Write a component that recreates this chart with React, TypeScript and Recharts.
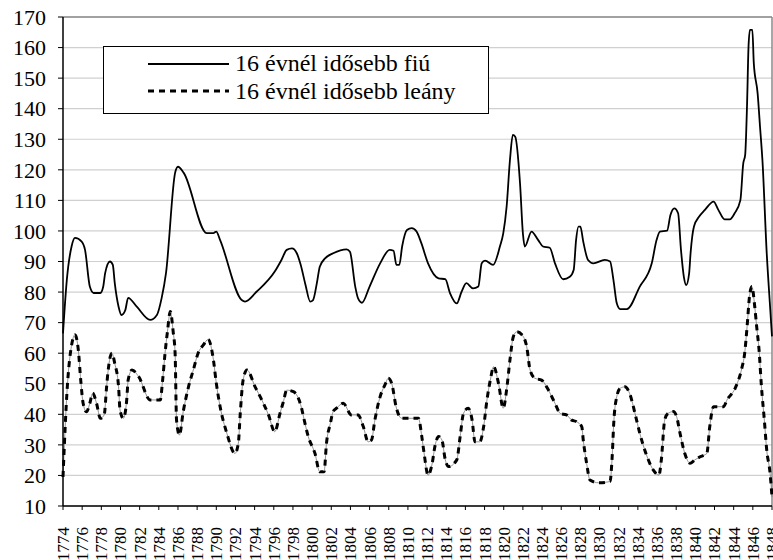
import { CartesianGrid, Line, LineChart, ReferenceLine, XAxis, YAxis } from "recharts";

// Yearly (sub-year) counts of over-16 boys and girls, 1774–1848.
// x values are decimal years.

const FIU_YEARS = [
  1774.0, 1774.4, 1774.9, 1775.25, 1775.95, 1776.3, 1776.8, 1777.2, 1777.9, 1778.2,
  1778.4, 1778.9, 1779.2, 1779.4, 1779.8, 1780.1, 1780.5, 1780.8, 1781.7, 1783.1,
  1783.8, 1784.3, 1784.75, 1785.7, 1786.0, 1786.6, 1789.0, 1789.7, 1790.0, 1790.4,
  1792.65, 1793.0, 1794.2, 1796.1, 1796.8, 1797.35, 1797.9, 1798.4, 1798.8, 1799.3,
  1799.8, 1800.1, 1800.5, 1800.8, 1801.35, 1802.2, 1803.6, 1803.95, 1804.5, 1804.8,
  1805.2, 1806.0, 1807.1, 1808.1, 1808.5, 1808.8, 1809.1, 1809.4, 1809.9, 1810.4,
  1810.9, 1811.4, 1812.1, 1813.2, 1813.9, 1814.4, 1815.1, 1815.6, 1816.1, 1816.8,
  1817.35, 1817.7, 1818.05, 1818.9, 1819.6, 1819.95, 1820.3, 1820.65, 1820.95, 1821.2,
  1821.7, 1822.0, 1822.2, 1822.9, 1823.6, 1824.1, 1824.8, 1825.35, 1826.2, 1826.9,
  1827.3, 1827.55, 1827.8, 1828.0, 1828.3, 1828.8, 1829.35, 1830.55, 1831.1, 1831.45,
  1831.8, 1832.15, 1832.85, 1834.2, 1835.45, 1835.95, 1836.3, 1837.05, 1837.4, 1837.8,
  1838.2, 1838.5, 1838.8, 1839.05, 1839.35, 1839.5, 1839.85, 1840.4, 1841.0, 1841.9,
  1842.4, 1843.05, 1843.6, 1844.1, 1844.7, 1845.0, 1845.2, 1845.4, 1845.55, 1845.7,
  1845.95, 1846.1, 1846.5, 1846.75, 1847.0, 1847.45, 1847.8, 1848.0,
];
const FIU_VALUES = [
  66.5, 84, 95, 97.7, 96.5, 93.8, 81.8, 79.7, 79.7, 81.8,
  86.2, 90, 88.9, 83, 75.2, 72.5, 74.1, 78.1, 75.2, 70.9,
  72.5, 78.1, 86.2, 119, 121, 119, 99.3, 99.3, 99.8, 97,
  77.4, 76.9, 80.1, 86.7, 90.5, 93.8, 94.3, 92.7, 89, 82.5,
  76.9, 77.4, 83, 88.3, 91, 92.7, 94, 93.2, 81.8, 77.9,
  76.5, 81.8, 89.4, 93.8, 93.5, 88.9, 88.9, 95, 100.3, 100.9,
  99.8, 96, 89.4, 84.5, 84.2, 79.6, 76.3, 80.1, 82.9, 81.2,
  81.8, 89.4, 90.3, 88.9, 94.9, 99.2, 107.9, 123.2, 131.4, 130.8,
  115.6, 99.2, 94.9, 99.8, 97, 94.9, 94.5, 89.4, 84.2, 85,
  87.2, 97, 101.4, 101.4, 96.5, 90.5, 89.4, 90.5, 90, 84,
  76.3, 74.4, 74.4, 81.8, 89.4, 97, 99.8, 100.1, 105.2, 107.4,
  105.8, 93.8, 85, 82.3, 86.1, 92.7, 101.4, 104.7, 106.9, 109.6,
  106.9, 103.8, 103.8, 105.8, 110.1, 122.1, 124.9, 141.8, 160.3, 165.8,
  165.8, 154.9, 145, 134.1, 123.2, 92.7, 75.2, 65.5,
];

const LEANY_YEARS = [
  1774.0, 1774.45, 1774.9, 1775.25, 1775.6, 1775.85, 1776.1, 1776.45, 1776.8, 1777.1,
  1777.5, 1777.9, 1778.3, 1778.55, 1778.7, 1779.1, 1779.4, 1779.8, 1779.95, 1780.3,
  1780.65, 1780.8, 1781.2, 1781.9, 1783.1, 1784.15, 1784.4, 1784.65, 1784.9, 1785.2,
  1785.5, 1785.7, 1785.85, 1786.15, 1786.55, 1787.1, 1787.6, 1788.1, 1788.65, 1789.15,
  1789.7, 1790.0, 1790.4, 1791.1, 1791.95, 1792.3, 1792.5, 1792.8, 1793.2, 1794.05,
  1794.75, 1795.45, 1796.1, 1796.65, 1797.0, 1797.35, 1798.05, 1798.9, 1799.1, 1799.6,
  1800.3, 1800.8, 1801.25, 1801.5, 1801.9, 1802.2, 1802.55, 1803.25, 1804.1, 1804.8,
  1805.35, 1805.85, 1806.2, 1806.55, 1807.1, 1807.6, 1807.95, 1808.3, 1808.8, 1809.35,
  1810.4, 1811.1, 1811.45, 1811.7, 1812.1, 1812.5, 1812.85, 1813.2, 1813.55, 1813.9,
  1814.25, 1815.1, 1815.45, 1815.8, 1816.3, 1816.7, 1817.0, 1817.5, 1817.9, 1818.25,
  1818.6, 1818.95, 1819.45, 1819.95, 1820.3, 1820.65, 1821.0, 1821.35, 1821.9, 1822.4,
  1822.75, 1823.25, 1823.95, 1824.65, 1825.35, 1825.9, 1826.55, 1827.1, 1827.6, 1828.15,
  1828.3, 1828.65, 1829.0, 1829.9, 1831.1, 1831.3, 1831.5, 1831.8, 1832.15, 1832.65,
  1833.2, 1833.7, 1834.2, 1834.9, 1835.6, 1836.2, 1836.45, 1836.8, 1837.15, 1837.7,
  1838.05, 1838.4, 1838.9, 1839.45, 1839.95, 1840.5, 1841.2, 1841.5, 1841.9, 1842.95,
  1843.3, 1844.15, 1844.85, 1845.15, 1845.4, 1845.65, 1845.9, 1846.2, 1846.4, 1846.65,
  1846.9, 1847.2, 1847.45, 1847.8, 1848.0,
];
const LEANY_VALUES = [
  19.5, 49, 62.7, 66, 61, 51.2, 43.6, 40.8, 43.6, 46.9,
  43.6, 38.7, 39.8, 49, 54, 60, 56.7, 49, 41.4, 38.7,
  44.7, 51.2, 54.5, 52.3, 44.7, 44.7, 51.2, 60, 67, 73.6,
  67, 60, 38.1, 33.2, 40.9, 49, 54.5, 60, 62.7, 64.5,
  57.8, 50.2, 42.5, 33.8, 27.2, 30.5, 40.3, 51.2, 54.5, 49,
  44.7, 39.8, 34.3, 40.3, 44.1, 47.9, 47.4, 42, 39.2, 32.7,
  27.2, 21.2, 21.2, 30.5, 37, 40.9, 42, 43.6, 39.8, 39.8,
  35.9, 31, 31.6, 38.1, 45.8, 49.6, 51.8, 50.2, 42, 38.7,
  38.7, 38.7, 32.7, 27, 20.1, 23.4, 30, 32.7, 31.6, 25.1,
  22.9, 25.1, 32.7, 40.3, 42, 38.1, 31, 31, 35.9, 44.7,
  51.2, 55.6, 50.2, 42, 48, 57.8, 65.4, 67, 66, 62.1,
  54.5, 51.8, 51.2, 48, 43.6, 40.3, 39.8, 38.1, 37.6, 35.9,
  31.6, 24, 18.5, 17.6, 18, 25.1, 38.1, 45.8, 48.5, 49,
  46.3, 40.3, 33.8, 26.7, 21.8, 20.1, 25.1, 38.1, 40.3, 40.9,
  39.2, 33.8, 27.2, 24, 25.1, 26.1, 27.2, 35.9, 42.5, 42.5,
  44.7, 48.5, 55.1, 60, 68.7, 78.5, 81.8, 75.2, 68.7, 61,
  49, 38.1, 28.3, 20.7, 13,
];

const X_TICKS = Array.from({ length: 38 }, (_, i) => 1774 + i * 2);
const Y_TICKS = [10, 20, 30, 40, 50, 60, 70, 80, 90, 100, 110, 120, 130, 140, 150, 160, 170];

const LABEL_FIU = "16 évnél idősebb fiú";
const LABEL_LEANY = "16 évnél idősebb leány";

const FONT = "'Liberation Serif', 'DejaVu Serif', serif";

const fiuData = FIU_YEARS.map((year, i) => ({ year, value: FIU_VALUES[i] }));
const leanyData = LEANY_YEARS.map((year, i) => ({ year, value: LEANY_VALUES[i] }));

function YearTick({ x, y, payload }: any) {
  const ty = y + 15;
  return (
    <text
      x={x}
      y={ty}
      transform={`rotate(-90 ${x} ${ty})`}
      textAnchor="end"
      dy="0.35em"
      fontFamily={FONT}
      fontSize={17}
      fill="#000"
    >
      {payload.value}
    </text>
  );
}

function ValueTick({ x, y, payload }: any) {
  return (
    <text x={x} y={y} textAnchor="end" dy="0.35em" fontFamily={FONT} fontSize={22} fill="#000">
      {payload.value}
    </text>
  );
}

export default function App() {
  return (
    <div style={{ position: "absolute", left: 0, top: 0, width: 773, height: 560, background: "#fff" }}>
      <LineChart width={773} height={560} margin={{ top: 17, right: 1, bottom: 0, left: 0 }}>
        <CartesianGrid horizontal vertical={false} stroke="#d0d0d0" strokeWidth={1.2} />
        <XAxis
          dataKey="year"
          type="number"
          domain={[1774, 1848]}
          ticks={X_TICKS}
          interval={0}
          allowDuplicatedCategory={false}
          height={54}
          tick={<YearTick />}
          tickSize={4}
          tickLine={{ stroke: "#000" }}
          axisLine={{ stroke: "#000", strokeWidth: 1.5 }}
        />
        <YAxis
          type="number"
          domain={[10, 170]}
          ticks={Y_TICKS}
          interval={0}
          width={63}
          tickSize={5}
          tickMargin={12}
          tick={<ValueTick />}
          tickLine={{ stroke: "#000" }}
          axisLine={{ stroke: "#000", strokeWidth: 1.5 }}
        />
        <ReferenceLine y={170} stroke="#8a8a8a" strokeWidth={1.5} />
        <ReferenceLine x={1848} stroke="#8a8a8a" strokeWidth={1.5} />
        <Line
          data={leanyData}
          dataKey="value"
          type="monotone"
          stroke="#777"
          strokeWidth={0.8}
          dot={false}
          isAnimationActive={false}
        />
        <Line
          data={leanyData}
          dataKey="value"
          type="monotone"
          stroke="#000"
          strokeWidth={3}
          strokeDasharray="6 5"
          dot={false}
          isAnimationActive={false}
        />
        <Line
          data={fiuData}
          dataKey="value"
          type="monotone"
          stroke="#000"
          strokeWidth={1.8}
          dot={false}
          isAnimationActive={false}
        />
      </LineChart>
      <div
        style={{
          position: "absolute",
          left: 103,
          top: 46,
          width: 384,
          height: 66,
          border: "1px solid #000",
          background: "#fff",
        }}
      >
        <svg width={384} height={66} style={{ position: "absolute", left: 0, top: 0 }}>
          <line x1={44} y1={17} x2={125} y2={17} stroke="#000" strokeWidth={2} />
          <line x1={44} y1={44} x2={125} y2={44} stroke="#000" strokeWidth={3} strokeDasharray="6 5" />
          <text x={131} y={24} fontFamily={FONT} fontSize={24} fill="#000">{LABEL_FIU}</text>
          <text x={131} y={52} fontFamily={FONT} fontSize={24} fill="#000">{LABEL_LEANY}</text>
        </svg>
      </div>
    </div>
  );
}
